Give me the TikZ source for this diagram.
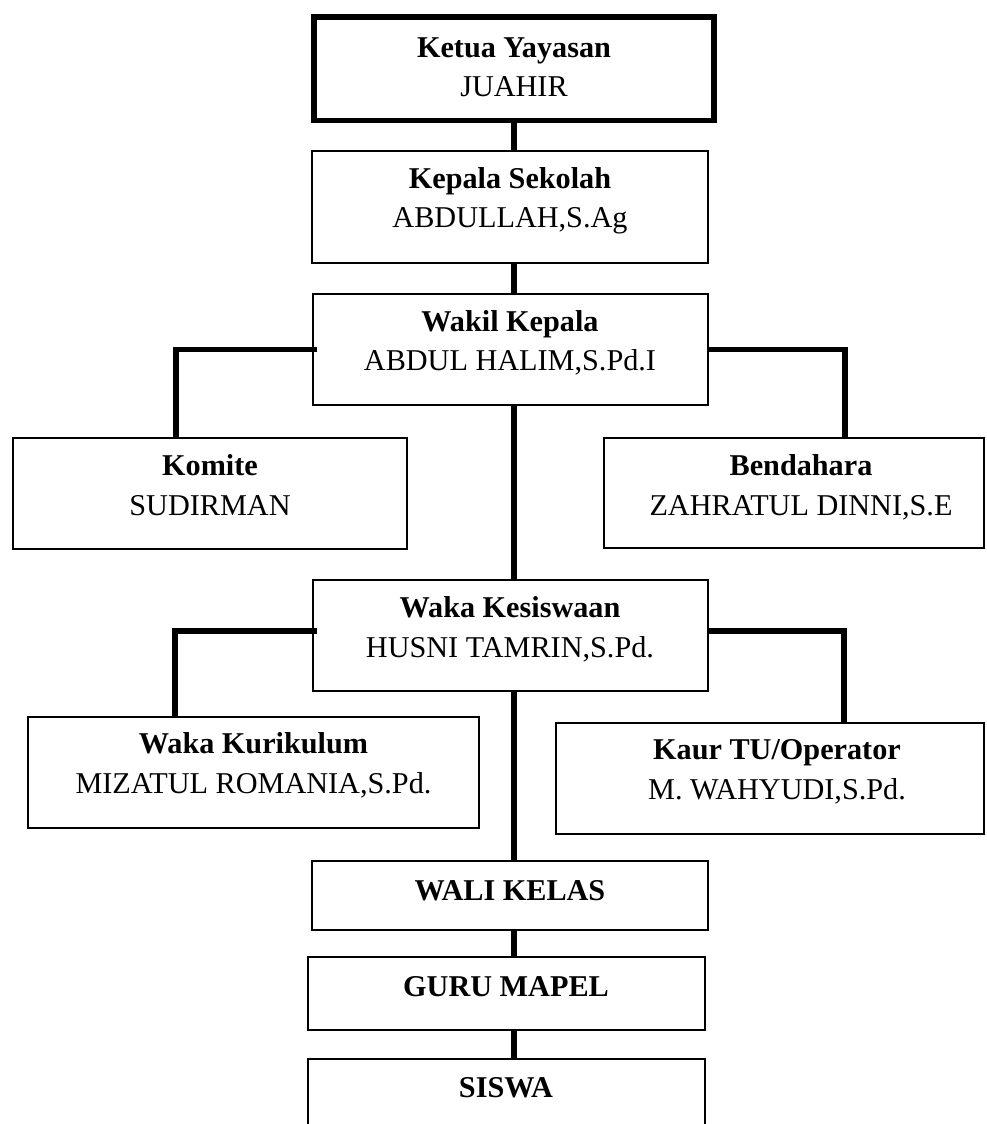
\documentclass[tikz,border=0pt]{standalone}
\usepackage{fontspec}
\setmainfont{Liberation Serif}
\begin{document}
\begin{tikzpicture}[x=0.02cm, y=-0.02cm,
  kotak/.style={draw, line width=1.1pt, inner sep=0pt},
  garis/.style={line width=3.1pt},
  teks/.style={align=center, anchor=base, inner sep=0pt,
    font=\fontsize{17.2}{22.6}\selectfont}]
  \clip (0,0) rectangle (986,1124);
  % Kotak-kotak jabatan
  \node[kotak, line width=3.1pt, minimum width=8cm, minimum height=2.07cm] (ketua) at (514,68.75) {};
  \node[kotak, minimum width=7.92cm, minimum height=2.24cm] (kepala) at (510,207) {};
  \node[kotak, minimum width=7.9cm, minimum height=2.22cm] (wakil) at (510.5,349.5) {};
  \node[kotak, minimum width=7.88cm, minimum height=2.22cm] (komite) at (210,493.5) {};
  \node[kotak, minimum width=7.6cm, minimum height=2.2cm] (bendahara) at (794,493) {};
  \node[kotak, minimum width=7.9cm, minimum height=2.22cm] (wakakes) at (510.5,635.5) {};
  \node[kotak, minimum width=9.02cm, minimum height=2.22cm] (kurikulum) at (253.5,772.5) {};
  \node[kotak, minimum width=8.56cm, minimum height=2.22cm] (kaur) at (770,778.5) {};
  \node[kotak, minimum width=7.92cm, minimum height=1.38cm] (wali) at (510,895.5) {};
  \node[kotak, minimum width=7.94cm, minimum height=1.46cm] (guru) at (506.5,993.5) {};
  \node[kotak, minimum width=7.94cm, minimum height=2.82cm] (siswa) at (506.5,1129.5) {};
  % Teks (base = baris terakhir)
  \node[teks] (ketua-t) at (514,97) {\textbf{Ketua Yayasan}\\JUAHIR};
  \node[teks] (kepala-t) at (510,228) {\textbf{Kepala Sekolah}\\ABDULLAH,S.Ag};
  \node[teks] (wakil-t) at (510,371) {\textbf{Wakil Kepala}\\ABDUL HALIM,S.Pd.I};
  \node[teks] (komite-t) at (210,515) {\textbf{Komite}\\SUDIRMAN};
  \node[teks] (bendahara-t) at (801,515) {\textbf{Bendahara}\\ZAHRATUL DINNI,S.E};
  \node[teks] (wakakes-t) at (510,657) {\textbf{Waka Kesiswaan}\\HUSNI TAMRIN,S.Pd.};
  \node[teks] (kurikulum-t) at (253.5,793) {\textbf{Waka Kurikulum}\\MIZATUL ROMANIA,S.Pd.};
  \node[teks] (kaur-t) at (777,799) {\textbf{Kaur TU/Operator}\\M. WAHYUDI,S.Pd.};
  \node[teks] (wali-t) at (510,900) {\textbf{WALI KELAS}};
  \node[teks] (guru-t) at (506,996) {\textbf{GURU MAPEL}};
  \node[teks] (siswa-t) at (506,1097) {\textbf{SISWA}};
  % Garis penghubung
  \coordinate (poros) at (514,0);
  \foreach \a/\b in {ketua/kepala, kepala/wakil, wakil/wakakes, wakakes/wali, wali/guru, guru/siswa}
    \draw[garis] (\a.south -| poros) -- (\b.north -| poros);
  \draw[garis] ([xshift=0.1cm]wakil.west) -| ([xshift=-0.68cm]komite.north);
  \draw[garis] (wakil.east) -| ([xshift=1.02cm]bendahara.north);
  \draw[garis] ([xshift=0.1cm, yshift=0.09cm]wakakes.west) -| ([xshift=-1.57cm]kurikulum.north);
  \draw[garis] ([yshift=0.09cm]wakakes.east) -| ([xshift=1.48cm]kaur.north);
\end{tikzpicture}
\end{document}
